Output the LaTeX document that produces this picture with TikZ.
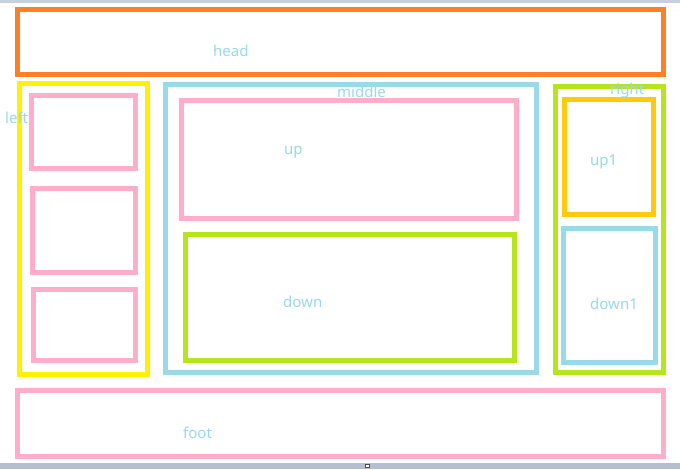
\documentclass[tikz,border=0pt]{standalone}
\usepackage{fontspec}
\setmainfont{Noto Sans}
\definecolor{cOrange}{HTML}{FF7F27}
\definecolor{cYellow}{HTML}{FFF200}
\definecolor{cPink}{HTML}{FFAEC9}
\definecolor{cBlue}{HTML}{99D9EA}
\definecolor{cGreen}{HTML}{B5E61D}
\definecolor{cGold}{HTML}{FFC90E}
\definecolor{cText}{HTML}{99D9EA}
\definecolor{cBar}{HTML}{C8D0E0}
\definecolor{cBarB}{HTML}{B4BFD0}
\begin{document}
\begin{tikzpicture}[x=1pt,y=-1pt,
  frame/.style={line width=5pt},
  lbl/.style={text=cText,font=\fontsize{15}{18}\selectfont,inner sep=0pt,anchor=base west}]
\useasboundingbox (0,0) rectangle (680,469);
\fill[white] (0,0) rectangle (680,469);
% screenshot strips
\fill[cBar] (0,0) rectangle (680,3);
\fill[cBarB] (0,463) rectangle (680,469);
\draw[black!70,fill=white,line width=0.6pt] (365.5,463.8) rectangle (369.5,467.5);
% boxes
\draw[frame,cOrange] (17.5,9.5) rectangle (663.5,74.5);
\draw[frame,cYellow] (19.5,83.5) rectangle (147.5,374.5);
\draw[frame,cPink] (31.5,95.5) rectangle (135.5,168.5);
\draw[frame,cPink] (32.5,188.5) rectangle (135.5,272.5);
\draw[frame,cPink] (33.5,289.5) rectangle (135.5,360.5);
\draw[frame,cBlue] (165.5,84.5) rectangle (536.5,372.5);
\draw[frame,cPink] (181.5,100.5) rectangle (516.5,218.5);
\draw[frame,cGreen] (185.5,234.5) rectangle (514.5,360.5);
\draw[frame,cGreen] (555.5,86.5) rectangle (663.5,372.5);
\draw[frame,cGold] (564.5,99.5) rectangle (653.5,214.5);
\draw[frame,cBlue] (563.5,228.5) rectangle (655.5,362.5);
\draw[frame,cPink] (17.5,390.5) rectangle (663.5,456.5);
% labels
\node[lbl] (thead) at (213,56) {head};
\node[lbl] (tleft) at (5,123) {left};
\node[lbl] (tmiddle) at (337,97) {middle};
\node[lbl] (tright) at (610,94) {right};
\node[lbl] (tup) at (284,154) {up};
\node[lbl] (tup1) at (590,165) {up1};
\node[lbl] (tdown) at (283,307) {down};
\node[lbl] (tdown1) at (590,309) {down1};
\node[lbl] (tfoot) at (183,438) {foot};
\end{tikzpicture}
\end{document}
